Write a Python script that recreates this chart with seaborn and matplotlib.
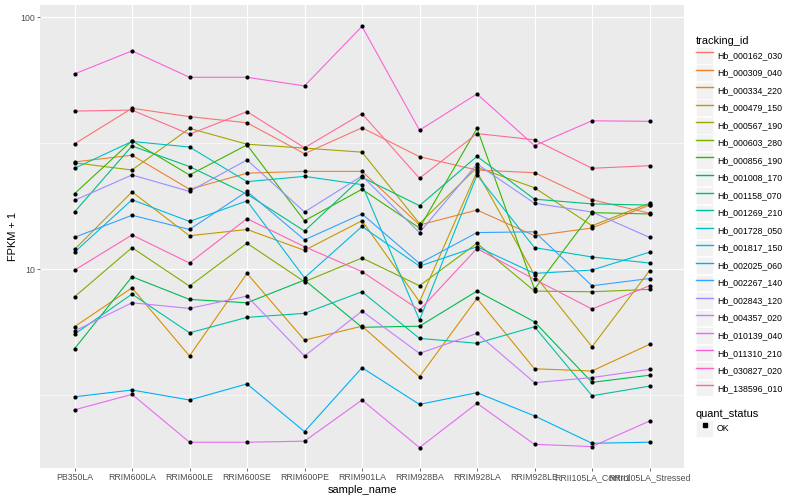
import numpy as np
import pandas as pd
import seaborn as sns
import matplotlib
matplotlib.use("Agg")
from matplotlib import pyplot as plt
from matplotlib.lines import Line2D
from matplotlib.patches import Rectangle
from matplotlib.legend_handler import HandlerLine2D
from matplotlib.ticker import FixedLocator, NullFormatter

plt.rcParams['font.family'] = ['Liberation Sans', 'DejaVu Sans']

samples = ['PB350LA', 'RRIM600LA', 'RRIM600LE', 'RRIM600SE', 'RRIM600PE', 'RRIM901LA',
           'RRIM928BA', 'RRIM928LA', 'RRIM928LE', 'RRII105LA_Control', 'RRII105LA_Stressed']

# FPKM + 1 per gene, in sample order
hb_000162_030 = [31.5, 43.6, 40.4, 38.2, 28.8, 36.5, 28.0, 24.8, 24.2, 18.9, 16.7]
hb_000309_040 = [26.7, 28.4, 20.8, 24.1, 24.5, 24.5, 15.0, 17.2, 13.6, 14.6, 18.0]
hb_000334_220 = [5.92, 8.45, 4.53, 9.64, 5.24, 5.95, 3.75, 7.67, 4.03, 3.95, 5.04]
hb_000479_150 = [12.0, 20.3, 13.6, 14.4, 11.9, 15.6, 7.44, 24.4, 9.5, 4.93, 9.87]
hb_000567_190 = [26.5, 24.8, 36.3, 31.4, 30.3, 29.2, 15.2, 25.4, 21.1, 14.9, 18.3]
hb_000603_280 = [7.78, 12.2, 8.58, 12.7, 8.93, 11.1, 8.61, 12.7, 8.2, 8.15, 8.33]
hb_000856_190 = [19.98, 32.4, 23.7, 31.2, 15.6, 20.8, 14.6, 36.3, 8.35, 16.8, 16.6]
hb_001008_170 = [4.84, 9.35, 7.6, 7.37, 9.07, 5.89, 5.95, 8.2, 6.19, 3.56, 3.8]
hb_001158_070 = [16.9, 30.9, 25.6, 19.9, 14.2, 23.2, 17.9, 28.1, 19.0, 18.2, 18.0]
hb_001269_210 = [5.53, 7.98, 5.6, 6.45, 6.69, 8.15, 5.32, 5.09, 5.92, 3.15, 3.44]
hb_001728_050 = [25.2, 32.2, 30.6, 22.3, 23.4, 21.7, 6.29, 23.7, 12.2, 11.2, 10.6]
hb_001817_150 = [11.7, 18.9, 15.5, 18.7, 9.26, 14.8, 10.3, 12.3, 9.64, 9.94, 11.7]
hb_002025_060 = [3.12, 3.32, 3.03, 3.51, 2.27, 4.07, 2.91, 3.24, 2.62, 2.04, 2.06]
hb_002267_140 = [13.4, 16.4, 14.4, 20.4, 13.1, 16.6, 10.56, 14.0, 14.1, 8.61, 9.2]
hb_002843_120 = [18.8, 23.7, 20.4, 27.2, 16.9, 23.5, 14.0, 26.2, 18.3, 16.9, 13.4]
hb_004357_020 = [5.69, 7.37, 7.0, 7.83, 4.53, 6.83, 4.64, 5.57, 3.55, 3.72, 4.01]
hb_010139_040 = [2.77, 3.19, 2.06, 2.06, 2.08, 3.03, 1.96, 2.94, 2.02, 1.98, 2.5]
hb_011310_210 = [59.7, 73.7, 57.9, 57.9, 53.5, 92.2, 35.7, 49.7, 31.0, 38.9, 38.7]
hb_030827_020 = [9.93, 13.7, 10.6, 15.9, 12.3, 9.8, 6.89, 12.1, 9.13, 6.96, 8.61]
hb_138596_010 = [42.5, 42.9, 34.4, 42.3, 30.4, 41.5, 23.0, 34.6, 32.7, 25.2, 25.8]

tracking_ids = ['Hb_000162_030', 'Hb_000309_040', 'Hb_000334_220', 'Hb_000479_150',
                'Hb_000567_190', 'Hb_000603_280', 'Hb_000856_190', 'Hb_001008_170',
                'Hb_001158_070', 'Hb_001269_210', 'Hb_001728_050', 'Hb_001817_150',
                'Hb_002025_060', 'Hb_002267_140', 'Hb_002843_120', 'Hb_004357_020',
                'Hb_010139_040', 'Hb_011310_210', 'Hb_030827_020', 'Hb_138596_010']
series = [hb_000162_030, hb_000309_040, hb_000334_220, hb_000479_150, hb_000567_190,
          hb_000603_280, hb_000856_190, hb_001008_170, hb_001158_070, hb_001269_210,
          hb_001728_050, hb_001817_150, hb_002025_060, hb_002267_140, hb_002843_120,
          hb_004357_020, hb_010139_040, hb_011310_210, hb_030827_020, hb_138596_010]

# ggplot default hue palette for 20 levels
colors = ["#F8766D", "#EA8331", "#D89000", "#C09B00", "#A3A500", "#7CAE00", "#39B600",
          "#00BB4E", "#00BF7D", "#00C1A3", "#00BFC4", "#00BAE0", "#00B0F6", "#35A2FF",
          "#9590FF", "#C77CFF", "#E76BF3", "#FA62DB", "#FF62BC", "#FF6C91"]

rows = []
for tid, vals in zip(tracking_ids, series):
    for s, v in zip(samples, vals):
        rows.append({'tracking_id': tid, 'sample_name': s, 'fpkm': v, 'quant_status': 'OK'})
df = pd.DataFrame(rows)
df['x'] = df['sample_name'].map({s: i for i, s in enumerate(samples)})

fig = plt.figure(figsize=(8, 5), dpi=100)
ax = fig.add_axes([0.05, 0.064, 0.805, 0.926])
ax.set_facecolor('#EBEBEB')

sns.lineplot(data=df, x='x', y='fpkm', hue='tracking_id', hue_order=tracking_ids,
             palette=colors, sort=False, lw=0.8, legend=False, ax=ax, zorder=3)
sns.scatterplot(data=df, x='x', y='fpkm', color='black', s=9, linewidth=0,
                legend=False, ax=ax, zorder=4)

ax.set_yscale('log')
ax.set_ylim(10 ** 0.2115, 10 ** 2.0496)
ax.set_xlim(-0.6, len(samples) - 0.4)
ax.set_yticks([10, 100])
ax.set_yticklabels(['10', '100'])
ax.yaxis.set_minor_locator(FixedLocator([10 ** 0.5, 10 ** 1.5]))
ax.yaxis.set_minor_formatter(NullFormatter())
ax.set_xticks(range(len(samples)))
ax.set_xticklabels(samples)
ax.set_axisbelow(True)
ax.grid(which='major', color='white', lw=0.8)
ax.grid(which='minor', axis='y', color='white', lw=0.4)
for sp in ax.spines.values():
    sp.set_visible(False)
ax.tick_params(which='major', length=2, width=0.5, color='#333333', labelsize=6.3,
               labelcolor='#4D4D4D', pad=1.5)
ax.tick_params(which='minor', length=0)
ax.set_xlabel('sample_name', fontsize=7.9, labelpad=2)
ax.set_ylabel('FPKM + 1', fontsize=7.9, labelpad=2)


class KeyHandler(HandlerLine2D):
    def create_artists(self, legend, orig_handle, xdescent, ydescent, width, height, fontsize, trans):
        arts = super().create_artists(legend, orig_handle, xdescent, ydescent, width, height, fontsize, trans)
        bg = Rectangle((-xdescent, -ydescent), width, height, facecolor='#F2F2F2',
                       edgecolor='white', lw=0.5, transform=trans)
        return [bg] + list(arts)


handles = [Line2D([], [], color=c, lw=1.0) for c in colors]
leg_kw = dict(loc='upper left', frameon=False, fontsize=6.3, title_fontsize=7.9,
              handlelength=1.95, handleheight=2.55, handletextpad=0.45, labelspacing=0.1,
              borderpad=0, borderaxespad=0, alignment='left',
              handler_map={Line2D: KeyHandler()})
fig.legend(handles, tracking_ids, title='tracking_id', bbox_to_anchor=(696 / 800, 1 - 36 / 500), **leg_kw)
ok = [Line2D([], [], marker='s', ls='none', color='black', markersize=2.3)]
fig.legend(ok, ['OK'], title='quant_status', bbox_to_anchor=(696 / 800, 1 - 409 / 500), **leg_kw)

plt.savefig('out.png', dpi=100)
